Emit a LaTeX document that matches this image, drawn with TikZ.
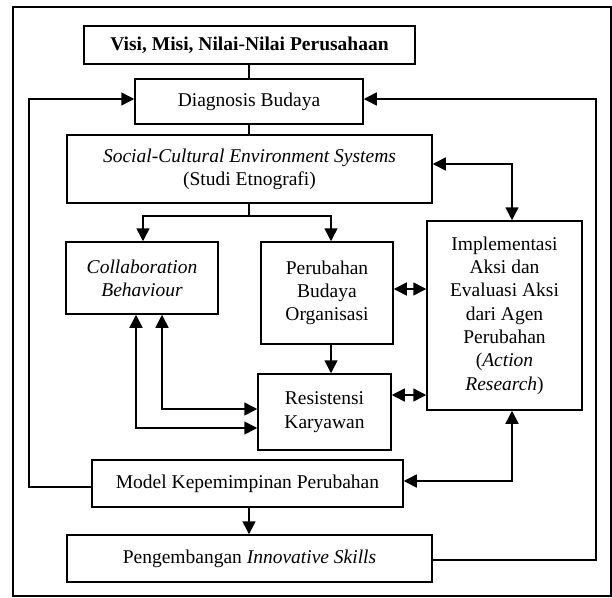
\documentclass[tikz,border=0pt]{standalone}
\usepackage{fontspec}
\setmainfont{Liberation Serif}
\usetikzlibrary{arrows.meta,positioning}

\begin{document}
\begin{tikzpicture}[x=1pt,y=-1pt,
	box/.style={draw,line width=1.5pt,inner sep=0pt,align=center,font=\fontsize{19.5}{23.3}\selectfont},
	link/.style={line width=1.5pt},
	tip/.style={line width=1.5pt,-{Triangle[length=13pt,width=13pt]}},
	tips/.style={line width=1.5pt,{Triangle[length=13pt,width=13pt]}-{Triangle[length=13pt,width=13pt]}}]
	\useasboundingbox (0,0) rectangle (612,597);
	\draw [line width=1.3pt] (13,7) rectangle (611,596);

	\node[box,minimum width=331pt,minimum height=38pt] (visi) at (249.5,45) {\textbf{Visi, Misi, Nilai-Nilai Perusahaan}};
	\node[box,minimum width=228pt,minimum height=45pt] (diag) at (249,101.5) {Diagnosis Budaya};
	\node[box,minimum width=365pt,minimum height=68pt] (social) at (249.5,169) {\textit{Social-Cultural Environment Systems}\\(Studi Etnografi)};
	\node[box,minimum width=152pt,minimum height=72pt] (collab) at (142,278) {\textit{Collaboration}\\\textit{Behaviour}};
	\node[box,minimum width=132pt,minimum height=102pt] (perub) at (327,293) {Perubahan\\Budaya\\Organisasi};
	\node[box,minimum width=155pt,minimum height=189pt] (impl) at (504.5,315.5) {Implementasi\\Aksi dan\\Evaluasi Aksi\\dari Agen\\Perubahan\\(\textit{Action}\\\textit{Research})};
	\node[box,minimum width=133pt,minimum height=76pt] (resist) at (324.5,412) {Resistensi\\Karyawan};
	\node[box,minimum width=311pt,minimum height=47pt] (model) at (247.5,483.5) {Model Kepemimpinan Perubahan};
	\node[box,minimum width=365pt,minimum height=47pt] (peng) at (249.5,558.5) {Pengembangan \textit{Innovative Skills}};

	\coordinate (split) at (249,216);
	\draw [link] (249,0 |- visi.south) -- (249,0 |- diag.north);
	\draw [link] (249,0 |- diag.south) -- (249,0 |- social.north);
	\draw [link] (249,0 |- social.south) -- (split);
	\draw [tip] (split) -| (143,0 |- collab.north);
	\draw [tip] (split) -| (331,0 |- perub.north);
	\draw [tip] (331,0 |- perub.south) -- (331,0 |- resist.north);
	\draw [tips] (perub.east |- 0,289) -- (impl.west |- 0,289);
	\draw [tips] (resist.east |- 0,395) -- (impl.west |- 0,395);
	\draw [tips] (social.east |- 0,164) -| (512,0 |- impl.north);
	\draw [tips] (512,0 |- impl.south) |- (model.east |- 0,481);
	\draw [tips] (162,0 |- collab.south) |- (resist.west |- 0,409);
	\draw [tips] (136,0 |- collab.south) |- (resist.west |- 0,428);
	\draw [tip] (249,0 |- model.south) -- (249,0 |- peng.north);
	\draw [tip] (model.west |- 0,487) -| (29,99) -- (diag.west |- 0,99);
	\draw [tip] (peng.east |- 0,560) -| (596,99) -- (diag.east |- 0,99);
\end{tikzpicture}
\end{document}
